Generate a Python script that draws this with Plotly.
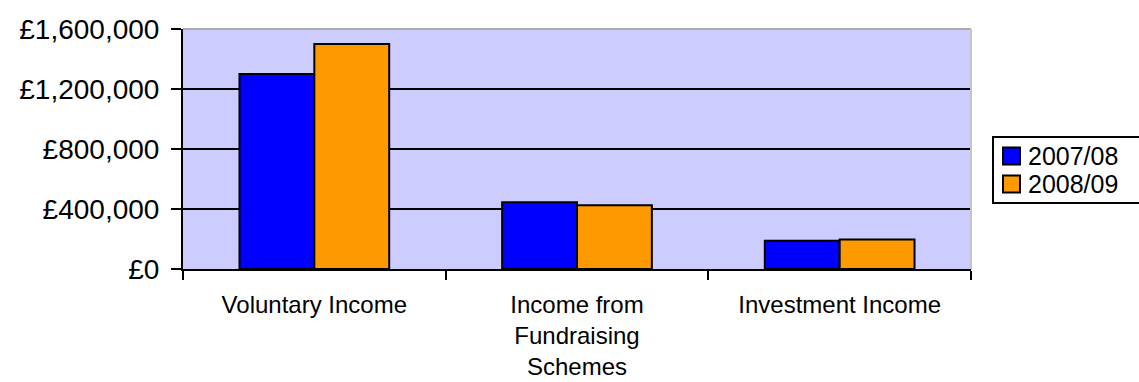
import plotly.graph_objects as go

categories = ["Voluntary Income", "Income from<br>Fundraising<br>Schemes", "Investment Income"]
series_names = ["2007/08", "2008/09"]
values_2007 = [1300000, 445000, 188000]
values_2008 = [1500000, 425000, 197000]
series_colors = ["#0000FF", "#FF9900"]
y_ticks = [0, 400000, 800000, 1200000, 1600000]
y_tick_labels = ["£{:,}".format(v) for v in y_ticks]

W, H = 1139, 382
ML, MR, MT, MB = 183, 168, 29, 113
PW, PH = W - ML - MR, H - MT - MB


def px_x(px):
    return (px - ML) / PW


def px_y(py):
    return (H - MB - py) / PH


FONT = "Liberation Sans, Arial, sans-serif"

fig = go.Figure()
for name, vals, col in zip(series_names, [values_2007, values_2008], series_colors):
    fig.add_trace(go.Bar(
        x=categories, y=vals, name=name,
        marker=dict(color=col, line=dict(color="black", width=2)),
        showlegend=False,
    ))

shapes = [
    dict(type="line", xref="paper", yref="paper", x0=0, x1=1, y0=1, y1=1,
         line=dict(color="#AAAAAA", width=2), layer="above"),
    dict(type="line", xref="paper", yref="paper", x0=1, x1=1, y0=0, y1=1,
         line=dict(color="#C4C4C4", width=2), layer="above"),
    # legend box
    dict(type="rect", xref="paper", yref="paper",
         x0=px_x(993), x1=px_x(1150), y0=px_y(203), y1=px_y(137),
         line=dict(color="black", width=2), fillcolor="white", layer="above"),
]
annotations = []
legend_rows = [156, 184]
for name, col, cy in zip(series_names, series_colors, legend_rows):
    shapes.append(dict(type="rect", xref="paper", yref="paper",
                       x0=px_x(1003), x1=px_x(1020), y0=px_y(cy + 8.5), y1=px_y(cy - 8.5),
                       line=dict(color="black", width=2), fillcolor=col, layer="above"))
    annotations.append(dict(xref="paper", yref="paper", x=px_x(1026), y=px_y(cy),
                            xanchor="left", yanchor="middle", text=name, showarrow=False,
                            font=dict(size=25, family=FONT, color="black")))

fig.update_layout(
    width=W, height=H,
    margin=dict(l=ML, r=MR, t=MT, b=MB, autoexpand=False),
    paper_bgcolor="white",
    plot_bgcolor="#CCCCFF",
    barmode="group",
    bargap=0.43,
    bargroupgap=0,
    font=dict(family=FONT, color="black"),
    showlegend=False,
    xaxis=dict(
        showline=True, linecolor="black", linewidth=2,
        ticks="outside", tickson="boundaries", ticklen=9, tickwidth=2, tickcolor="black",
        tickfont=dict(size=24, family=FONT),
        ticklabelstandoff=13, automargin=False,
        showgrid=False, fixedrange=True,
    ),
    yaxis=dict(
        range=[0, 1600000], tickvals=y_ticks, ticktext=y_tick_labels,
        showline=True, linecolor="black", linewidth=2,
        ticks="outside", ticklen=10, tickwidth=2, tickcolor="black",
        showgrid=True, gridcolor="black", gridwidth=2,
        zeroline=False, automargin=False,
        tickfont=dict(size=28, family=FONT),
        ticklabelstandoff=6,
    ),
    shapes=shapes,
    annotations=annotations,
)

fig.write_html("out.html")
